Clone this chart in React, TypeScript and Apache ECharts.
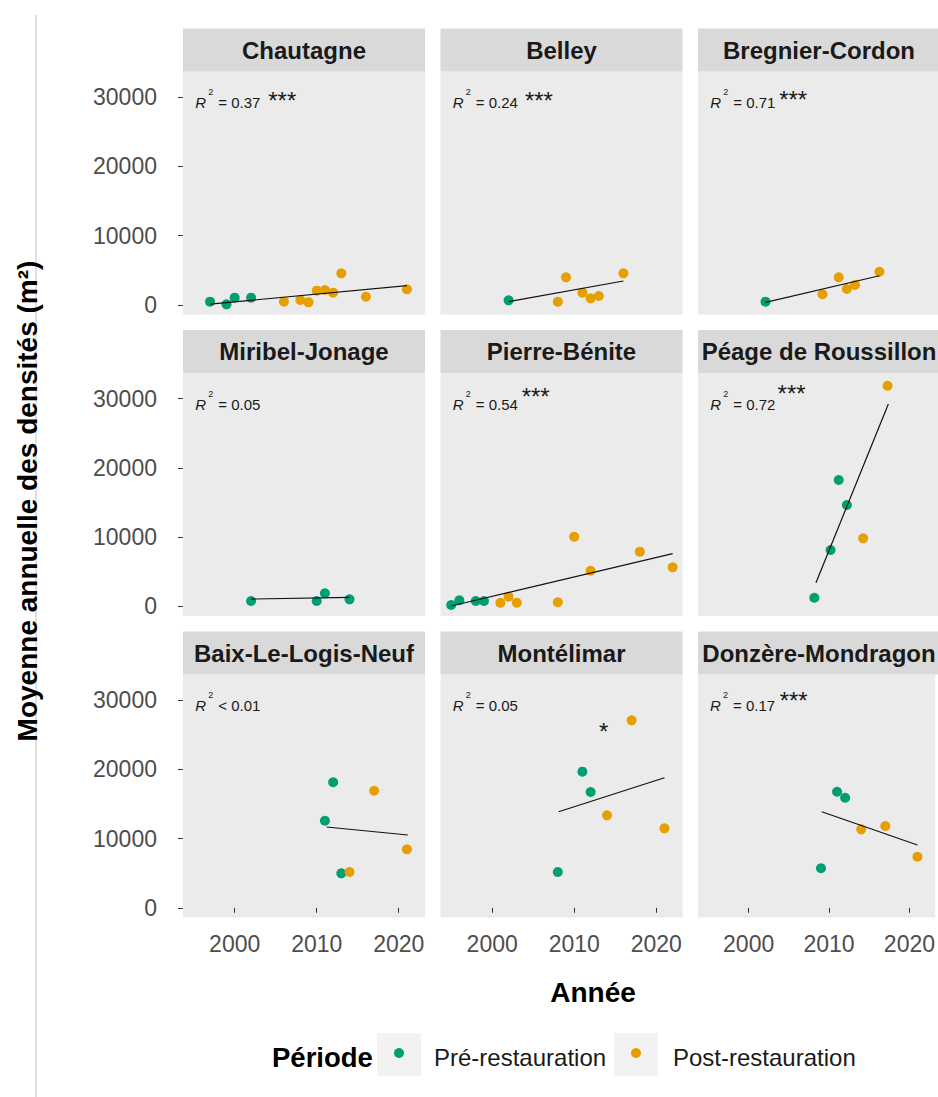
import React, { useEffect, useRef } from "react";
import * as echarts from "echarts";

// ---------- DATA ----------
const sites = [
  "Chautagne", "Belley", "Bregnier-Cordon",
  "Miribel-Jonage", "Pierre-Bénite", "Péage de Roussillon",
  "Baix-Le-Logis-Neuf", "Montélimar", "Donzère-Mondragon",
];

const chautagnePre = [[1997, 450], [1999, 70], [2000, 1030], [2002, 1030]];
const chautagnePost = [[2006, 450], [2008, 690], [2009, 360], [2010, 2040], [2011, 2140], [2012, 1750], [2013, 4550], [2016, 1170], [2021, 2240]];
const belleyPre = [[2002, 650]];
const belleyPost = [[2008, 450], [2009, 3970], [2011, 1750], [2012, 940], [2013, 1270], [2016, 4550]];
const bregnierPre = [[2002, 450]];
const bregnierPost = [[2009, 1520], [2011, 3970], [2012, 2280], [2013, 2860], [2016, 4780]];
const miribelPre = [[2002, 770], [2010, 770], [2011, 1880], [2014, 1010]];
const miribelPost: number[][] = [];
const pierrePre = [[1995, 190], [1996, 870], [1998, 770], [1999, 770]];
const pierrePost = [[2001, 520], [2002, 1390], [2003, 520], [2008, 580], [2010, 10050], [2012, 5140], [2018, 7890], [2022, 5630]];
const peagePre = [[2008, 1240], [2010, 8130], [2011, 18240], [2012, 14630]];
const peagePost = [[2014, 9820], [2017, 31860]];
const baixPre = [[2011, 12580], [2012, 18130], [2013, 4980]];
const baixPost = [[2014, 5170], [2017, 16910], [2021, 8450]];
const montelimarPre = [[2008, 5170], [2011, 19660], [2012, 16730]];
const montelimarPost = [[2014, 13360], [2017, 27080], [2021, 11480]];
const donzerePre = [[2009, 5710], [2011, 16770], [2012, 15900]];
const donzerePost = [[2014, 11340], [2017, 11820], [2021, 7380]];

const preData = [chautagnePre, belleyPre, bregnierPre, miribelPre, pierrePre, peagePre, baixPre, montelimarPre, donzerePre];
const postData = [chautagnePost, belleyPost, bregnierPost, miribelPost, pierrePost, peagePost, baixPost, montelimarPost, donzerePost];

// regression line end points [start, end]
const trendLines = [
  [[1997, 100], [2021, 2760]],
  [[2002, 450], [2016, 3440]],
  [[2002, 360], [2016, 4200]],
  [[2002, 1050], [2014, 1300]],
  [[1995, 40], [2022, 7600]],
  [[2008.2, 3410], [2017.1, 29220]],
  [[2011.2, 11670], [2021.1, 10520]],
  [[2008.1, 13880], [2021, 18790]],
  [[2009.1, 13880], [2021, 9070]],
];

const r2Values = ["= 0.37", "= 0.24", "= 0.71", "= 0.05", "= 0.54", "= 0.72", "< 0.01", "= 0.05", "= 0.17"];
const sigLabels = ["***", "***", "***", "", "***", "***", "", "*", "***"];
const sigX = [2005.8, 2005.7, 2005.4, 0, 2005.3, 2005.2, 0, 2013.6, 2005.6];
const sigY = [30200, 30200, 30400, 0, 31000, 31500, 0, 26200, 30700];
const r2AnchorX = 1995.2;
const r2AnchorY = 29200;

const yTicks = [0, 10000, 20000, 30000];
const xTicks = [2000, 2010, 2020];
const yRange = [-1400, 33700];
const xRange = [1993.7, 2023.2];

const periods = ["Pré-restauration", "Post-restauration"];
const periodColors = ["#009E73", "#E69F00"];

// ---------- LAYOUT ----------
const COL_LEFT = [183, 440.5, 698];
const PANEL_W = 242;
const ROW_TOP = [71.5, 373, 674.5];
const PANEL_H = 243;
const STRIP_H = 43;
const SANS = "'Liberation Sans', Arial, sans-serif";

export default function App() {
  const ref = useRef<HTMLDivElement>(null);

  useEffect(() => {
    document.body.style.margin = "0";
    if (!ref.current) return;
    const chart = echarts.init(ref.current, undefined, { renderer: "svg" });

    const grids: any[] = [];
    const xAxes: any[] = [];
    const yAxes: any[] = [];
    const series: any[] = [];

    sites.forEach((site, i) => {
      const r = Math.floor(i / 3);
      const c = i % 3;
      grids.push({
        left: COL_LEFT[c], top: ROW_TOP[r], width: PANEL_W, height: PANEL_H,
        show: true, backgroundColor: "#ebebeb", borderWidth: 0,
      });
      xAxes.push({
        type: "value", gridIndex: i, min: xRange[0], max: xRange[1],
        axisLine: { show: false },
        splitLine: { show: false },
        axisTick: { show: r === 2, length: 5, lineStyle: { color: "#333", width: 1 }, customValues: xTicks },
        axisLabel: {
          show: r === 2, customValues: xTicks, margin: 15,
          fontSize: 23, color: "#4d4d4d", fontFamily: SANS,
          formatter: (v: number) => String(v),
        },
      });
      yAxes.push({
        type: "value", gridIndex: i, min: yRange[0], max: yRange[1],
        axisLine: { show: false },
        splitLine: { show: false },
        axisTick: { show: c === 0, length: 5, lineStyle: { color: "#333", width: 1 }, customValues: yTicks },
        axisLabel: {
          show: c === 0, customValues: yTicks, margin: 26,
          fontSize: 23, color: "#4d4d4d", fontFamily: SANS,
          formatter: (v: number) => String(v),
        },
      });
      series.push({
        type: "scatter", name: periods[0], xAxisIndex: i, yAxisIndex: i,
        data: preData[i], symbolSize: 10, itemStyle: { color: periodColors[0], opacity: 1 }, z: 2,
      });
      series.push({
        type: "scatter", name: periods[1], xAxisIndex: i, yAxisIndex: i,
        data: postData[i], symbolSize: 10, itemStyle: { color: periodColors[1], opacity: 1 }, z: 2,
      });
      series.push({
        type: "line", xAxisIndex: i, yAxisIndex: i, data: trendLines[i],
        symbol: "none", lineStyle: { color: "#111", width: 1.2 }, z: 3, silent: true,
      });
    });

    chart.setOption({
      animation: false,
      backgroundColor: "#ffffff",
      grid: grids,
      xAxis: xAxes,
      yAxis: yAxes,
      series,
    });

    const g: any[] = [];
    // left thin line
    g.push({ type: "line", shape: { x1: 36, y1: 15, x2: 36, y2: 1097 }, style: { stroke: "#d6d6d6", lineWidth: 1.5 } });

    sites.forEach((site, i) => {
      const r = Math.floor(i / 3);
      const c = i % 3;
      g.push({
        type: "rect",
        shape: { x: COL_LEFT[c], y: ROW_TOP[r] - STRIP_H, width: PANEL_W, height: STRIP_H },
        style: { fill: "#d9d9d9" },
      });
      g.push({
        type: "text",
        x: COL_LEFT[c] + PANEL_W / 2, y: ROW_TOP[r] - STRIP_H / 2,
        style: {
          text: site, align: "center", verticalAlign: "middle",
          fontSize: 24, fontWeight: "bold", fontFamily: SANS, fill: "#1a1a1a",
        },
      });
      const p = chart.convertToPixel({ gridIndex: i }, [r2AnchorX, r2AnchorY]) as number[];
      g.push({
        type: "group", x: p[0], y: p[1],
        children: [
          { type: "text", x: 0, y: 0, style: { text: "R", fontSize: 15, fontStyle: "italic", fontFamily: SANS, fill: "#1a1a1a", verticalAlign: "middle" } },
          { type: "text", x: 13, y: -10.5, style: { text: "2", fontSize: 9, fontFamily: SANS, fill: "#1a1a1a", verticalAlign: "middle" } },
          { type: "text", x: 23, y: 0, style: { text: r2Values[i], fontSize: 15, fontFamily: SANS, fill: "#1a1a1a", verticalAlign: "middle" } },
        ],
      });
      if (sigLabels[i]) {
        const s = chart.convertToPixel({ gridIndex: i }, [sigX[i], sigY[i]]) as number[];
        g.push({
          type: "text", x: s[0], y: s[1] + 5,
          style: { text: sigLabels[i], fontSize: 24, fontFamily: SANS, fill: "#1a1a1a", align: "center", verticalAlign: "middle" },
        });
      }
    });

    // axis titles
    g.push({
      type: "text", x: 27, y: 501, rotation: Math.PI / 2,
      style: {
        text: "Moyenne annuelle des densités (m²)", align: "center", verticalAlign: "middle",
        fontSize: 28, fontWeight: "bold", fontFamily: SANS, fill: "#000",
      },
    });
    g.push({
      type: "text", x: 593, y: 992,
      style: { text: "Année", align: "center", verticalAlign: "middle", fontSize: 28, fontWeight: "bold", fontFamily: SANS, fill: "#000" },
    });

    // legend
    g.push({
      type: "text", x: 272, y: 1057,
      style: { text: "Période", align: "left", verticalAlign: "middle", fontSize: 27.5, fontWeight: "bold", fontFamily: SANS, fill: "#000" },
    });
    const keyX = [377, 614];
    const labX = [434, 673];
    periods.forEach((name, k) => {
      g.push({ type: "rect", shape: { x: keyX[k], y: 1033, width: 44, height: 43 }, style: { fill: "#f2f2f2" } });
      g.push({ type: "circle", shape: { cx: keyX[k] + 22, cy: 1053, r: 5 }, style: { fill: periodColors[k] } });
      g.push({
        type: "text", x: labX[k], y: 1057,
        style: { text: name, align: "left", verticalAlign: "middle", fontSize: 24, fontFamily: SANS, fill: "#1a1a1a" },
      });
    });

    chart.setOption({ graphic: g });

    return () => chart.dispose();
  }, []);

  return <div ref={ref} style={{ width: 938, height: 1097 }} />;
}
